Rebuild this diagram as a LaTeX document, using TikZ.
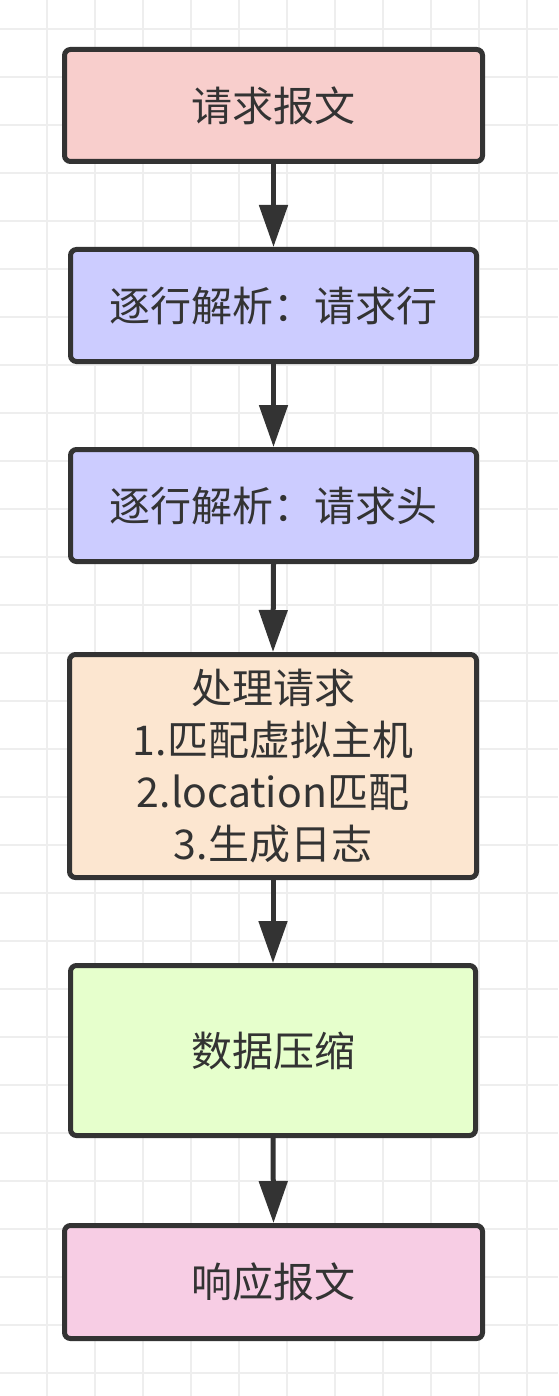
\documentclass[tikz,border=0pt]{standalone}
\usepackage{fontspec}
\setmainfont{Noto Sans CJK SC}
\usetikzlibrary{arrows.meta}
\definecolor{ink}{HTML}{333333}
\definecolor{gridc}{HTML}{EEEEEE}
\definecolor{cpink}{HTML}{F8CECC}
\definecolor{cblue}{HTML}{CCCCFF}
\definecolor{corange}{HTML}{FCE6D0}
\definecolor{cgreen}{HTML}{E6FFCC}
\definecolor{cmag}{HTML}{F7CDE4}
\begin{document}
\begin{tikzpicture}[x=1pt,y=-1pt,
  flowbox/.style={draw=ink, line width=5pt, rounded corners=6pt, text=ink,
    font=\fontsize{41pt}{52pt}\selectfont, align=center, inner sep=0pt,
    minimum width=#1},
  flowarrow/.style={draw=ink, line width=5pt,
    -{Triangle[length=42pt,width=28pt]}}]
\useasboundingbox (0,0) rectangle (558,1396);
\fill[white] (0,0) rectangle (558,1396);
\foreach \i in {0,...,10} \draw[gridc, line width=1.6pt] (47+48*\i,0) -- (47+48*\i,1396);
\foreach \j in {0,...,28} \draw[gridc, line width=1.6pt] (0,29+48*\j) -- (558,29+48*\j);

\node[flowbox=418pt, minimum height=112pt, fill=cpink] (a) at (273.5,105.5) {请求报文};
\node[flowbox=406pt, minimum height=112pt, fill=cblue] (b) at (273.5,305.5) {逐行解析：请求行};
\node[flowbox=406pt, minimum height=112pt, fill=cblue] (c) at (273.5,505.5) {逐行解析：请求头};
\node[flowbox=407pt, minimum height=223pt, fill=corange] (d) at (273,766) {处理请求\\1.匹配虚拟主机\\2.location匹配\\3.生成日志};
\node[flowbox=405pt, minimum height=170pt, fill=cgreen] (e) at (273,1050.5) {数据压缩};
\node[flowbox=418pt, minimum height=113pt, fill=cmag] (f) at (273.5,1282) {响应报文};

\draw[flowarrow] (a.south) -- (b.north);
\draw[flowarrow] (b.south) -- (c.north);
\draw[flowarrow] (c.south) -- (d.north);
\draw[flowarrow] (d.south) -- (e.north);
\draw[flowarrow] (e.south) -- (f.north);
\end{tikzpicture}
\end{document}
